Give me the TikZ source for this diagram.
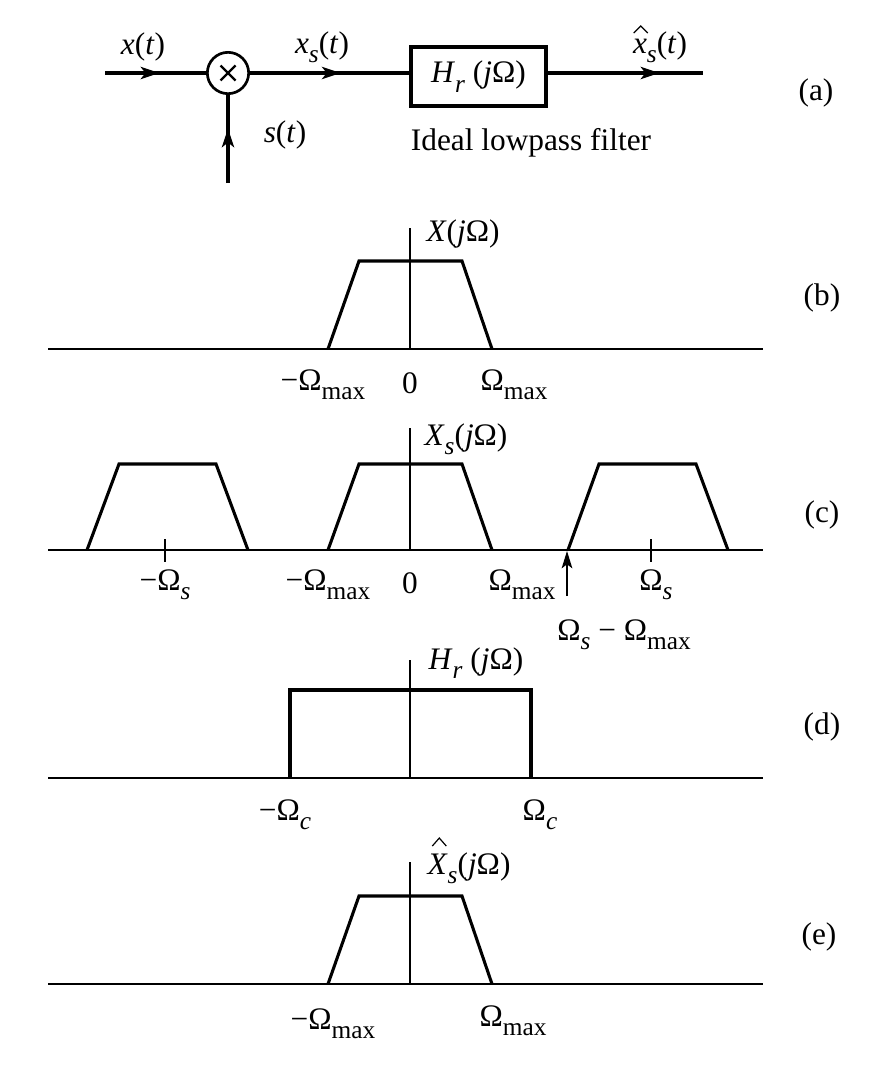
\documentclass[tikz,border=0pt]{standalone}
\usepackage{fontspec}
\setmainfont{Liberation Serif}
\usetikzlibrary{arrows.meta,decorations.markings,calc}
\newcommand\sbs[1]{\raisebox{-0.3em}{\fontsize{19}{19}\selectfont #1}}
\newcommand\Om{Ω}
\begin{document}
\begin{tikzpicture}[x=0.75pt,y=-0.75pt,font=\fontsize{23.5}{28}\selectfont,
  sig/.style={line width=2.8pt},
  spec/.style={line width=2.3pt,line join=miter},
  ax/.style={line width=1pt},
  hatline/.style={line width=0.9pt,line join=miter},
  lbl/.style={inner sep=0pt},
  midarrow/.style={postaction={decorate},decoration={markings,
     mark=at position #1 with {\arrow{Stealth[length=14pt,width=9pt,inset=3.5pt]}}}}]
\useasboundingbox (0,0) rectangle (895,1067);
% ---------- (a)
\coordinate (in) at (105,73);
\coordinate (out) at (703,73);
\coordinate (sb) at (228,183);
\node[circle,draw,line width=2pt,minimum size=31pt,inner sep=0pt] (mult) at (228,73) {};
\draw[line width=1.7pt] ($(mult)+(-7.5,-7.5)$) -- ($(mult)+(7.5,7.5)$) ($(mult)+(-7.5,7.5)$) -- ($(mult)+(7.5,-7.5)$);
\node[draw,sig,minimum width=101pt,minimum height=44pt,inner sep=0pt] (H) at (478.5,76.5) {\textit{H}\sbs{\textit{r}} (\textit{j}\Om)};
\draw[sig,midarrow=0.54] (in) -- (mult);
\draw[sig,midarrow=0.57] (mult) -- (mult -| H.west);
\draw[sig,midarrow=0.72] (mult -| H.east) -- (out);
\draw[sig,midarrow=0.62] (sb) -- (mult);
\node[lbl] (lx) at (143,47) {\textit{x}(\textit{t})};
\node[lbl] (lxs) at (322,47) {\textit{x}\sbs{\textit{s}}(\textit{t})};
\node[lbl] (ls) at (285,135) {\textit{s}(\textit{t})};
\node[lbl] (lxh) at (660,47) {\textit{x}\sbs{\textit{s}}(\textit{t})};
\draw[hatline] ($(lxh.base west)+(1,-20)$) -- ($(lxh.base west)+(8,-27)$) -- ($(lxh.base west)+(15,-20)$);
\node[lbl] (lf) at (531,143) {Ideal lowpass filter};
\node[lbl] (la) at (816,93) {(a)};
% ---------- (b)
\draw[ax] (48,349) -- (763,349);
\draw[ax] (410,228) -- (410,349);
\draw[spec] (328,349) -- (359,261) -- (462,261) -- (492,349);
\node[lbl] (Xb) at (463,234) {\textit{X}(\textit{j}\Om)};
\node[lbl] (b1) at (323,385) {−\Om\sbs{max}};
\node[lbl] (b2) at (410,383) {0};
\node[lbl] (b3) at (514,385) {\Om\sbs{max}};
\node[lbl] (lb) at (822,298) {(b)};
% ---------- (c)
\draw[ax] (48,550) -- (763,550);
\draw[ax] (410,428) -- (410,550);
\draw[ax] (165,539) -- (165,562);
\draw[ax] (651,539) -- (651,562);
\draw[spec] (87,550) -- (119,464) -- (216,464) -- (248,550);
\draw[spec] (328,550) -- (359,464) -- (462,464) -- (492,550);
\draw[spec] (568,550) -- (599,464) -- (696,464) -- (728,550);
\coordinate (cs) at (567,596);
\coordinate (ce) at (567,551);
\draw[ax,-{Stealth[length=13pt,width=8pt,inset=3pt]}] (cs) -- (ce);
\node[lbl] (Xc) at (466,439) {\textit{X}\sbs{\textit{s}}(\textit{j}\Om)};
\node[lbl] (c1) at (165,585) {−\Om\sbs{\textit{s}}};
\node[lbl] (c2) at (328,585) {−\Om\sbs{max}};
\node[lbl] (c3) at (410,583) {0};
\node[lbl] (c4) at (522,585) {\Om\sbs{max}};
\node[lbl] (c5) at (656,585) {\Om\sbs{\textit{s}}};
\node[lbl] (c6) at (624,635) {\Om\sbs{\textit{s}} − \Om\sbs{max}};
\node[lbl] (lc) at (822,515) {(c)};
% ---------- (d)
\draw[ax] (48,778) -- (763,778);
\draw[ax] (410,660) -- (410,778);
\draw[spec] (290,778) -- (290,690) -- (531,690) -- (531,778);
\node[lbl] (Hd) at (476,663) {\textit{H}\sbs{\textit{r}} (\textit{j}\Om)};
\node[lbl] (d1) at (285,815) {−\Om\sbs{\textit{c}}};
\node[lbl] (d2) at (540,815) {\Om\sbs{\textit{c}}};
\node[lbl] (ld) at (822,727) {(d)};
% ---------- (e)
\draw[ax] (48,984) -- (763,984);
\draw[ax] (410,862) -- (410,984);
\draw[spec] (328,984) -- (359,896) -- (462,896) -- (492,984);
\node[lbl] (Xe) at (469,868) {\textit{X}\sbs{\textit{s}}(\textit{j}\Om)};
\draw[hatline] ($(Xe.base west)+(5,-28)$) -- ($(Xe.base west)+(12,-36)$) -- ($(Xe.base west)+(19,-28)$);
\node[lbl] (e1) at (333,1024) {−\Om\sbs{max}};
\node[lbl] (e2) at (513,1021) {\Om\sbs{max}};
\node[lbl] (le) at (819,937) {(e)};
\end{tikzpicture}
\end{document}
